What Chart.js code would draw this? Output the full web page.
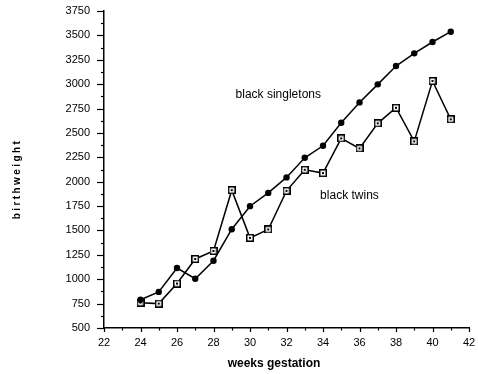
<!DOCTYPE html>
<html>
<head>
<meta charset="utf-8">
<script src="https://cdn.jsdelivr.net/npm/chart.js@4/dist/chart.umd.min.js"></script>
<style>
html,body{margin:0;padding:0;background:#fff;}
#wrap{width:478px;height:374px;}
</style>
</head>
<body>
<div id="wrap"><canvas id="c" width="478" height="374"></canvas></div>
<script>
const weeks = [24,25,26,27,28,29,30,31,32,33,34,35,36,37,38,39,40,41];
const singletons = [790,870,1115,1005,1190,1513,1749,1885,2044,2245,2368,2604,2813,2998,3186,3316,3432,3538];
const twins = [760,750,956,1208,1290,1913,1424,1510,1906,2122,2088,2444,2341,2598,2758,2413,3032,2639];
const seriesLabels = ['black singletons','black twins'];
const xTitle = 'weeks gestation';
const yTitle = 'birthweight';

const FONT = 'Liberation Sans, Arial, Helvetica, sans-serif';

// square marker with a dot in the center
function squareMarker(){
  const s = 8, c = document.createElement('canvas');
  c.width = s; c.height = s;
  const g = c.getContext('2d');
  g.fillStyle = '#000'; g.fillRect(0,0,s,s);
  g.fillStyle = '#fff'; g.fillRect(1.5,1.5,s-3,s-3);
  g.fillStyle = '#000'; g.fillRect(3,3,2,2);
  return c;
}

const extras = {
  id:'extras',
  afterDraw(chart){
    const ctx = chart.ctx, xs = chart.scales.x, ys = chart.scales.y;
    ctx.save();
    ctx.strokeStyle = '#000'; ctx.lineWidth = 1.2;
    const ax = xs.left, ay = ys.bottom;
    for(let v = ys.min; v <= ys.max; v += 125){
      const py = Math.round(ys.getPixelForValue(v)) + 0.5;
      const len = (v % 250 === 0) ? 7 : 3;
      ctx.beginPath(); ctx.moveTo(ax - len, py); ctx.lineTo(ax, py); ctx.stroke();
    }
    for(let w = xs.min; w <= xs.max; w += 1){
      const px = Math.round(xs.getPixelForValue(w)) + 0.5;
      const len = (w % 2 === 0) ? 4 : 2.5;
      ctx.beginPath(); ctx.moveTo(px, ay); ctx.lineTo(px, ay + len); ctx.stroke();
    }
    // series annotations
    ctx.fillStyle = '#000';
    ctx.font = '12px ' + FONT;
    ctx.textAlign = 'center'; ctx.textBaseline = 'middle';
    ctx.fillText(seriesLabels[0], xs.getPixelForValue(31.55), ys.getPixelForValue(2890));
    ctx.fillText(seriesLabels[1], xs.getPixelForValue(35.45), ys.getPixelForValue(1860));
    // axis titles
    ctx.font = 'bold 12px ' + FONT;
    ctx.fillText(xTitle, 274, 364);
    ctx.save();
    ctx.translate(17, 179);
    ctx.rotate(-Math.PI/2);
    ctx.font = 'bold 10px ' + FONT;
    try { ctx.letterSpacing = '2.4px'; } catch(e) {}
    ctx.fillText(yTitle, 0, 0);
    ctx.restore();
    ctx.restore();
  }
};

new Chart(document.getElementById('c'), {
  type:'line',
  data:{
    labels: weeks,
    datasets:[
      {label:seriesLabels[0], data: weeks.map((w,i)=>({x:w,y:singletons[i]})),
       borderColor:'#000', borderWidth:1.5, backgroundColor:'#000',
       pointStyle:'circle', pointRadius:3.2, pointBorderWidth:0, pointBackgroundColor:'#000', tension:0},
      {label:seriesLabels[1], data: weeks.map((w,i)=>({x:w,y:twins[i]})),
       borderColor:'#000', borderWidth:1.5, backgroundColor:'#fff',
       pointStyle: squareMarker(), pointRadius:4, tension:0}
    ]
  },
  options:{
    responsive:false, animation:false, devicePixelRatio:1,
    layout:{padding:{left:0, top:11, right:9, bottom:0}},
    plugins:{legend:{display:false}, tooltip:{enabled:false}},
    scales:{
      x:{type:'linear', min:22, max:42,
         afterFit(s){ s.height = 46; s.paddingLeft = 0; s.paddingRight = 0; },
         border:{display:true, color:'#000', width:1.5},
         grid:{display:false, drawTicks:false},
         ticks:{stepSize:2, padding:8, color:'#000', font:{family:FONT, size:11},
                callback:(v)=>String(v)}},
      y:{type:'linear', min:500, max:3750,
         afterFit(s){ s.width = 104; s.paddingTop = 0; s.paddingBottom = 0; },
         border:{display:true, color:'#000', width:1.5},
         grid:{display:false, drawTicks:false},
         ticks:{stepSize:250, padding:14, color:'#000', font:{family:FONT, size:11},
                callback:(v)=>String(v)}}
    }
  },
  plugins:[extras]
});
</script>
</body>
</html>
